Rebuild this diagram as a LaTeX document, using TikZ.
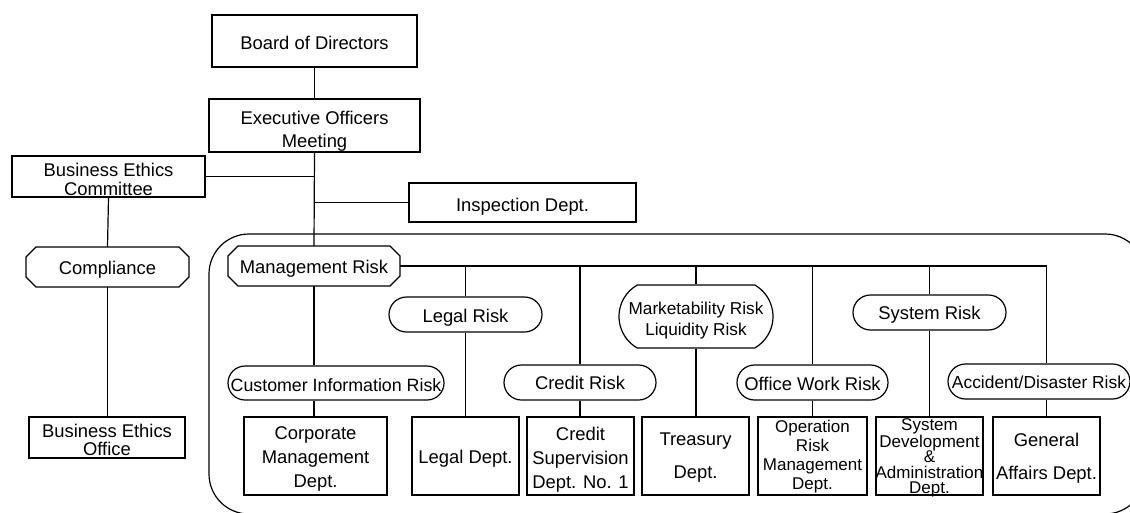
\documentclass[tikz,border=0pt]{standalone}
\usepackage{fontspec}
\setmainfont{Liberation Sans}
\usetikzlibrary{shapes.misc}
\newcommand\chamferbox[2]{\draw ([xshift=#2]#1.north west) -- ([xshift=-#2]#1.north east) -- ([yshift=-#2]#1.north east) -- ([yshift=#2]#1.south east) -- ([xshift=-#2]#1.south east) -- ([xshift=#2]#1.south west) -- ([yshift=#2]#1.south west) -- ([yshift=-#2]#1.north west) -- cycle;}
\begin{document}
\begin{tikzpicture}[x=1pt,y=-1pt,line width=1.2pt,
  box/.style={draw,rectangle,inner sep=0pt},
  cham/.style={rectangle,inner sep=0pt,outer sep=0pt},
  stad/.style={draw,rounded rectangle,inner sep=0pt},
  lbl/.style={font=\fontsize{18.4}{22}\selectfont,align=center,inner sep=0pt}]
\useasboundingbox (0,0) rectangle (1130,512);
% container
\draw[rounded corners=40pt] (209,234) rectangle (1145,514);
% top boxes
\node[box,minimum width=205pt,minimum height=52pt,label={[lbl,yshift=-2pt]center:Board of Directors}] (board) at (314.5,41) {};
\node[box,minimum width=211pt,minimum height=53pt,label={[lbl,font=\fontsize{18.4}{23}\selectfont,yshift=-5.5pt]center:Executive Officers\\Meeting}] (exec) at (314.5,125.5) {};
\node[box,minimum width=193pt,minimum height=41pt,label={[lbl,font=\fontsize{18.4}{19}\selectfont,yshift=-3pt]center:Business Ethics\\Committee}] (committee) at (108.5,176.5) {};
\node[box,minimum width=227pt,minimum height=39pt,label={[lbl,yshift=-4pt]center:Inspection Dept.}] (inspection) at (522.5,202.5) {};
\node[box,minimum width=156pt,minimum height=41pt,label={[lbl,font=\fontsize{18.4}{18}\selectfont,yshift=-2pt]center:Business Ethics\\Office}] (ethoffice) at (107,437.5) {};
% chamfered
\node[cham,minimum width=172pt,minimum height=40pt,label={[lbl,yshift=-3pt]center:Management Risk}] (mgmt) at (314,266) {};
\chamferbox{mgmt}{10pt}
\node[cham,minimum width=163pt,minimum height=40pt,label={[lbl,yshift=-3pt]center:Compliance}] (compliance) at (107.5,267) {};
\chamferbox{compliance}{10pt}
% stadiums
\node[stad,minimum width=153pt,minimum height=35pt,label={[lbl,yshift=-3pt]center:Legal Risk}] (legalrisk) at (465.5,314.5) {};
\node[stad,rounded rectangle arc length=120,minimum width=154pt,minimum height=63pt,label={[lbl,font=\fontsize{17.2}{21}\selectfont,yshift=-4.5pt]center:Marketability Risk\\Liquidity Risk}] (mktrisk) at (696,316.5) {};
\node[stad,minimum width=153pt,minimum height=35pt,label={[lbl,yshift=-2pt]center:System Risk}] (sysrisk) at (929.5,312.5) {};
\node[stad,minimum width=216pt,minimum height=34pt,label={[lbl,font=\fontsize{17.8}{22}\selectfont,yshift=-2pt]center:Customer Information Risk}] (custrisk) at (336,383) {};
\node[stad,minimum width=152pt,minimum height=35pt,label={[lbl]center:Credit Risk}] (creditrisk) at (580,382.5) {};
\node[stad,minimum width=151pt,minimum height=35pt,label={[lbl,yshift=-1pt]center:Office Work Risk}] (officerisk) at (812.5,382.5) {};
\node[stad,minimum width=182pt,minimum height=35pt,label={[lbl,font=\fontsize{17.4}{22}\selectfont,yshift=-1pt]center:Accident/Disaster Risk}] (accrisk) at (1039,381.5) {};
% bottom boxes
\node[box,minimum width=143pt,minimum height=78pt,label={[lbl,font=\fontsize{18.4}{24}\selectfont,yshift=-3pt]center:Corporate\\Management\\Dept.}] (corporate) at (315.5,456) {};
\node[box,minimum width=107pt,minimum height=78pt,label={[lbl,yshift=-3pt]center:Legal Dept.}] (legaldept) at (465.5,456) {};
\node[box,minimum width=107pt,minimum height=78pt,label={[lbl,font=\fontsize{18.4}{24}\selectfont,yshift=-4pt]center:Credit\\Supervision\\Dept. No. 1}] (creditsup) at (580.5,456) {};
\node[box,minimum width=107pt,minimum height=78pt,label={[lbl,font=\fontsize{18.4}{33}\selectfont,yshift=-2pt]center:Treasury\\Dept.}] (treasury) at (695.5,456) {};
\node[box,minimum width=109pt,minimum height=78pt,label={[lbl,font=\fontsize{17}{19}\selectfont,yshift=-1pt]center:Operation\\Risk\\Management\\Dept.}] (oprisk) at (812.5,456) {};
\node[box,minimum width=107pt,minimum height=78pt,label={[lbl,font=\fontsize{17}{15.4}\selectfont,yshift=-2pt]center:System\\Development\\\&\\\makebox[0pt]{Administration}\\Dept.}] (sysdev) at (929.5,456) {};
\node[box,minimum width=107pt,minimum height=78pt,label={[lbl,font=\fontsize{18.4}{33}\selectfont,yshift=-2.5pt]center:General\\Affairs Dept.}] (general) at (1046.5,456) {};
% connectors
\draw (board) -- (exec);
\draw (exec.south) -- (mgmt.north);
\draw (committee.east) -- (committee.east -| exec.south);
\draw (inspection.west) -- (inspection.west -| exec.south);
\draw (committee.south) -- (compliance.north);
\draw (compliance.south) -- (compliance.south |- ethoffice.north);
% bus
\draw (mgmt.east) -- (mgmt.east -| general.north) -- (general.north |- accrisk.north);
\draw (mgmt.south) -- (mgmt.south |- custrisk.north);
\draw (custrisk.south -| mgmt.south) -- (corporate.north -| mgmt.south);
\draw (legalrisk.north |- mgmt.east) -- (legalrisk.north);
\draw (legalrisk.south) -- (legaldept.north -| legalrisk.south);
\draw (creditrisk.north |- mgmt.east) -- (creditrisk.north);
\draw (creditrisk.south) -- (creditsup.north -| creditrisk.south);
\draw (mktrisk.north |- mgmt.east) -- (mktrisk.north);
\draw (mktrisk.south) -- (treasury.north -| mktrisk.south);
\draw (officerisk.north |- mgmt.east) -- (officerisk.north);
\draw (officerisk.south) -- (oprisk.north);
\draw (sysrisk.north |- mgmt.east) -- (sysrisk.north);
\draw (sysrisk.south) -- (sysdev.north);
\draw (accrisk.south -| general.north) -- (general.north);
\end{tikzpicture}
\end{document}
